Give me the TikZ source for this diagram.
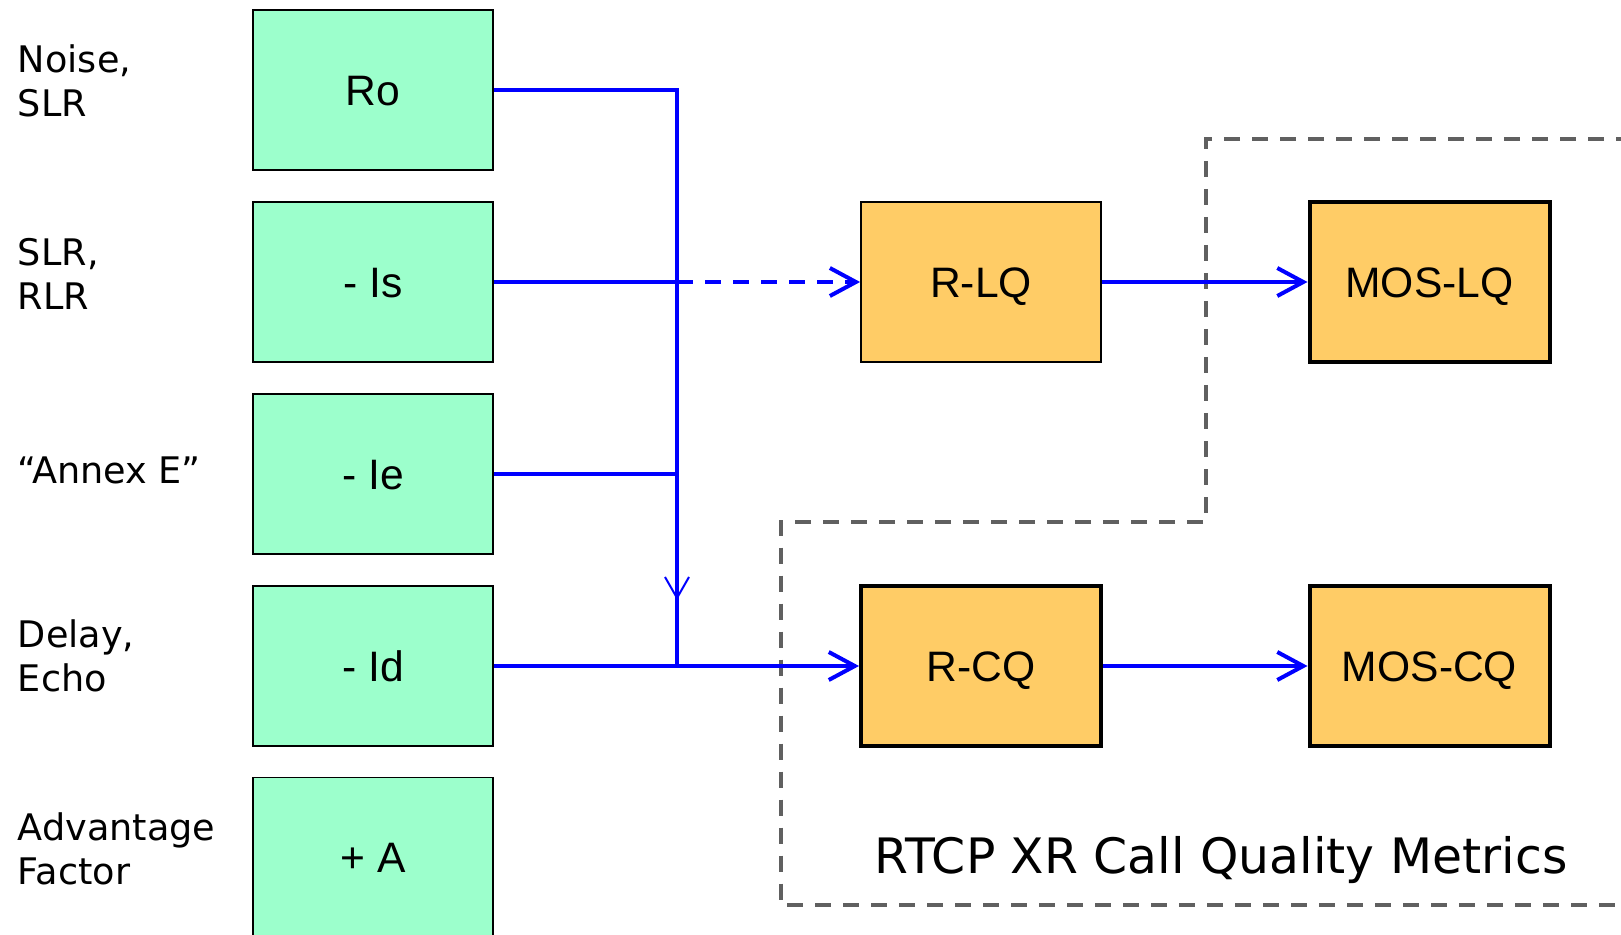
\documentclass[tikz,border=0pt]{standalone}
\usepackage{fontspec}
\setmainfont{Liberation Sans}
\newfontfamily\lblfont{DejaVu Sans}
\usetikzlibrary{arrows.meta,calc}
\definecolor{boxgreen}{HTML}{9CFFCC}
\definecolor{boxorange}{HTML}{FFCC66}
\definecolor{dashgray}{HTML}{606060}
\begin{document}
\begin{tikzpicture}[x=0.5pt,y=-0.5pt,
  gbox/.style={draw=black, line width=0.9pt, fill=boxgreen, minimum width=120pt, minimum height=80pt, inner sep=0pt, text height=15.3pt, text depth=0pt, font=\fontsize{21.3}{25}\selectfont},
  obox/.style={gbox, fill=boxorange},
  thickbox/.style={obox, line width=2pt},
  lbl/.style={anchor=west, align=left, inner sep=0pt, font=\lblfont\fontsize{18.3}{22}\selectfont},
  conn/.style={draw=blue, line width=2pt},
  tip/.style={-{Straight Barb[length=13pt,width=14pt]}},
  midtip/.style={-{Straight Barb[length=10.5pt,width=12pt,line width=1pt]}},
  region/.style={draw=dashgray, line width=1.8pt, dash pattern=on 8pt off 6pt},
  dashconn/.style={dash pattern=on 8pt off 6pt}
]
\useasboundingbox (0,0) rectangle (1621,935);
\clip (0,0) rectangle (1621,935);

% dashed region
\draw[region] (1660,139) -- (1206,139) -- (1206,522) -- (780.7,522) -- (780.7,905) -- (1660,905);
\node[font=\lblfont\fontsize{24.4}{28}\selectfont, anchor=base, inner sep=0pt] (title) at (1221,873.6) {RTCP XR Call Quality Metrics};

% green boxes
\node[gbox] (Ro) at (373,90) {Ro};
\node[gbox] (Is) at (373,282) {- Is};
\node[gbox] (Ie) at (373,474) {- Ie};
\node[gbox] (Id) at (373,666) {- Id};
\node[gbox] (A) at (373,857.5) {+ A};

% left labels
\node[lbl] (lRo) at (17.6,81) {Noise,\\SLR};
\node[lbl] (lIs) at (17.6,274) {SLR,\\RLR};
\node[lbl, anchor=base west] (lIe) at (17.6,483) {“Annex E”};
\node[lbl] (lId) at (17.6,656) {Delay,\\Echo};
\node[lbl] (lA) at (17.6,849) {Advantage\\Factor};

% orange boxes
\node[obox] (RLQ) at (981,282) {R-LQ};
\node[thickbox] (MOSLQ) at (1429.5,282) {MOS-LQ};
\node[thickbox] (RCQ) at (981,666) {R-CQ};
\node[thickbox] (MOSCQ) at (1429.5,666) {MOS-CQ};

% connectors
\coordinate (bus) at (677,0);
\draw[conn] (Ro.east) -- (Ro.east -| bus) -- (Id.east -| bus);
\draw[conn, midtip] (Ro.east -| bus) -- ($(Id.east -| bus)+(0,-66)$);
\draw[conn] (Is.east) -- (Is.east -| bus);
\draw[conn, dashconn, tip] (Is.east -| bus) -- (RLQ.west);
\draw[conn] (Ie.east) -- (Ie.east -| bus);
\draw[conn, tip] (Id.east) -- (RCQ.west);
\draw[conn, tip] (RLQ.east) -- (MOSLQ.west);
\draw[conn, tip] (RCQ.east) -- (MOSCQ.west);
\end{tikzpicture}
\end{document}
